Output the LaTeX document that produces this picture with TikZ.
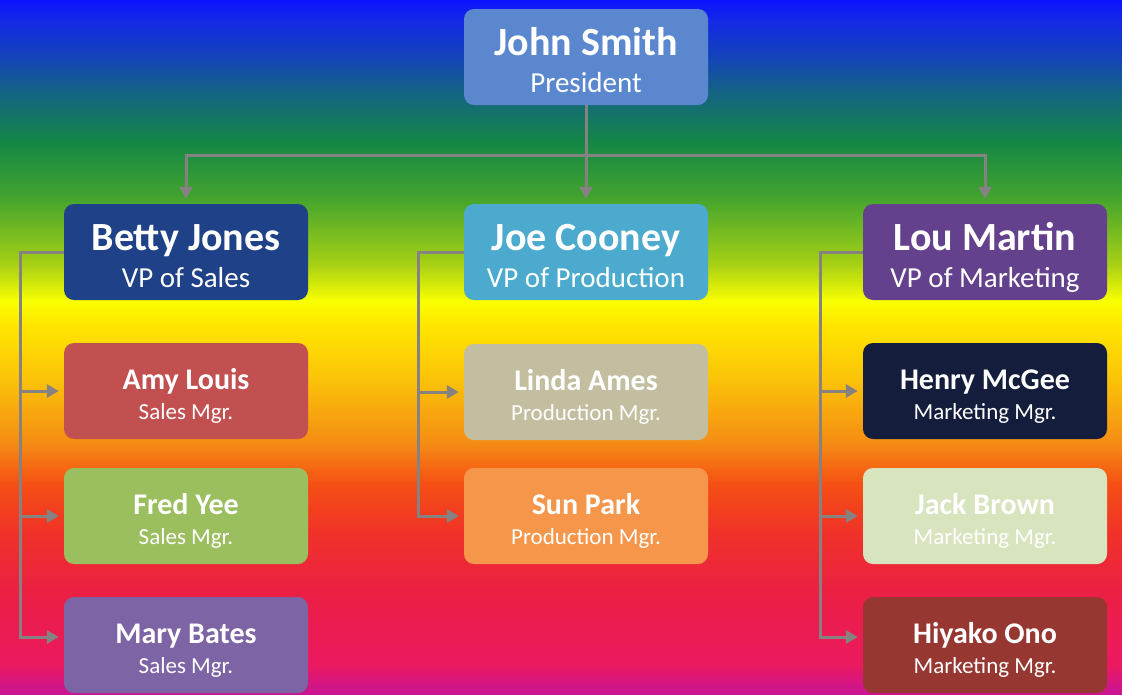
\documentclass[tikz,border=0pt]{standalone}
\usepackage{fontspec}
\setmainfont{Carlito}
\usetikzlibrary{arrows.meta}
\definecolor{cjs}{RGB}{90,135,205}
\definecolor{cbj}{RGB}{30,65,135}
\definecolor{cjc}{RGB}{75,170,205}
\definecolor{clm}{RGB}{100,65,140}
\definecolor{cal}{RGB}{195,80,80}
\definecolor{cfy}{RGB}{155,190,95}
\definecolor{cmb}{RGB}{125,100,165}
\definecolor{cla}{RGB}{195,190,160}
\definecolor{csp}{RGB}{245,150,75}
\definecolor{chm}{RGB}{20,30,60}
\definecolor{cjb}{RGB}{215,228,190}
\definecolor{cho}{RGB}{150,55,50}
\definecolor{cline}{RGB}{135,130,130}
\definecolor{g0}{RGB}{10,20,255}
\definecolor{g1}{RGB}{20,40,230}
\definecolor{g2}{RGB}{20,70,180}
\definecolor{g3}{RGB}{20,100,130}
\definecolor{g4}{RGB}{20,135,70}
\definecolor{g5}{RGB}{70,165,45}
\definecolor{g6}{RGB}{170,210,20}
\definecolor{g7}{RGB}{250,255,0}
\definecolor{g8}{RGB}{255,230,0}
\definecolor{g9}{RGB}{250,190,10}
\definecolor{g10}{RGB}{245,140,20}
\definecolor{g11}{RGB}{245,80,20}
\definecolor{g12}{RGB}{240,50,40}
\definecolor{g13}{RGB}{235,30,70}
\definecolor{g14}{RGB}{235,25,95}
\definecolor{g15}{RGB}{200,20,150}
\tikzset{
  box/.style={rounded corners=10pt, minimum width=244pt, minimum height=96pt,
    inner sep=0pt, text=white, align=center},
  topbox/.style={box, font=\fontsize{40}{37}\selectfont},
  lowbox/.style={box, font=\fontsize{30}{30}\selectfont},
  conn/.style={draw=cline, line width=3pt},
  arr/.style={conn, -{Triangle[length=12pt,width=13pt]}, shorten >=5pt},
}
\newcommand{\topline}[2]{\rule{0pt}{33pt}\smash{\textbf{#1}}\\\smash{\fontsize{29}{29}\selectfont #2}}
\newcommand{\lowline}[2]{\rule{0pt}{26pt}\smash{\textbf{#1}}\\\smash{\fontsize{23}{23}\selectfont #2}}
\begin{document}
\begin{tikzpicture}[x=1pt,y=-1pt]
\useasboundingbox (0,0) rectangle (1122,694);
% background gradient
\foreach \ya/\yb/\ca/\cb in {0/20/g0/g1,20/60/g1/g2,60/93/g2/g3,93/142/g3/g4,142/200/g4/g5,200/266/g5/g6,266/301/g6/g7,301/326/g7/g8,326/385/g8/g9,385/443/g9/g10,443/483/g10/g11,483/532/g11/g12,532/598/g12/g13,598/665/g13/g14,665/694/g14/g15}{
  \shade[top color=\ca, bottom color=\cb] (0,\ya-0.5) rectangle (1122,\yb+0.5);
}
% nodes
\node[topbox, fill=cjs] (js) at (586,57) {\topline{John Smith}{President}};
\node[topbox, fill=cbj] (bj) at (186,252) {\topline{Betty Jones}{VP of Sales}};
\node[topbox, fill=cjc] (jc) at (586,252) {\topline{Joe Cooney}{VP of Production}};
\node[topbox, fill=clm] (lm) at (985,252) {\topline{Lou Martin}{VP of Marketing}};
\node[lowbox, fill=cal] (al) at (186,391) {\lowline{Amy Louis}{Sales Mgr.}};
\node[lowbox, fill=cfy] (fy) at (186,516) {\lowline{Fred Yee}{Sales Mgr.}};
\node[lowbox, fill=cmb] (mb) at (186,645) {\lowline{Mary Bates}{Sales Mgr.}};
\node[lowbox, fill=cla] (la) at (586,392) {\lowline{Linda Ames}{Production Mgr.}};
\node[lowbox, fill=csp] (sp) at (586,516) {\lowline{Sun Park}{Production Mgr.}};
\node[lowbox, fill=chm] (hm) at (985,391) {\lowline{Henry McGee}{Marketing Mgr.}};
\node[lowbox, fill=cjb] (jb) at (985,516) {\lowline{Jack Brown}{Marketing Mgr.}};
\node[lowbox, fill=cho] (ho) at (985,645) {\lowline{Hiyako Ono}{Marketing Mgr.}};
% connectors
\coordinate (h) at (0,155);
\coordinate (xl) at (20,0);
\coordinate (xc) at (418,0);
\coordinate (xr) at (820,0);
\draw[arr] (js.south) |- (bj.north |- h) -- (bj.north);
\draw[arr] (js.south) |- (lm.north |- h) -- (lm.north);
\draw[arr] (js.south) -- (jc.north);
\draw[arr] (bj.west) -- (bj.west -| xl) |- (al.west);
\draw[arr] (bj.west) -- (bj.west -| xl) |- (fy.west);
\draw[arr] (bj.west) -- (bj.west -| xl) |- ([yshift=8pt]mb.west);
\draw[arr] (jc.west) -- (jc.west -| xc) |- (la.west);
\draw[arr] (jc.west) -- (jc.west -| xc) |- (sp.west);
\draw[arr] (lm.west) -- (lm.west -| xr) |- (hm.west);
\draw[arr] (lm.west) -- (lm.west -| xr) |- (jb.west);
\draw[arr] (lm.west) -- (lm.west -| xr) |- ([yshift=8pt]ho.west);
\end{tikzpicture}
\end{document}
